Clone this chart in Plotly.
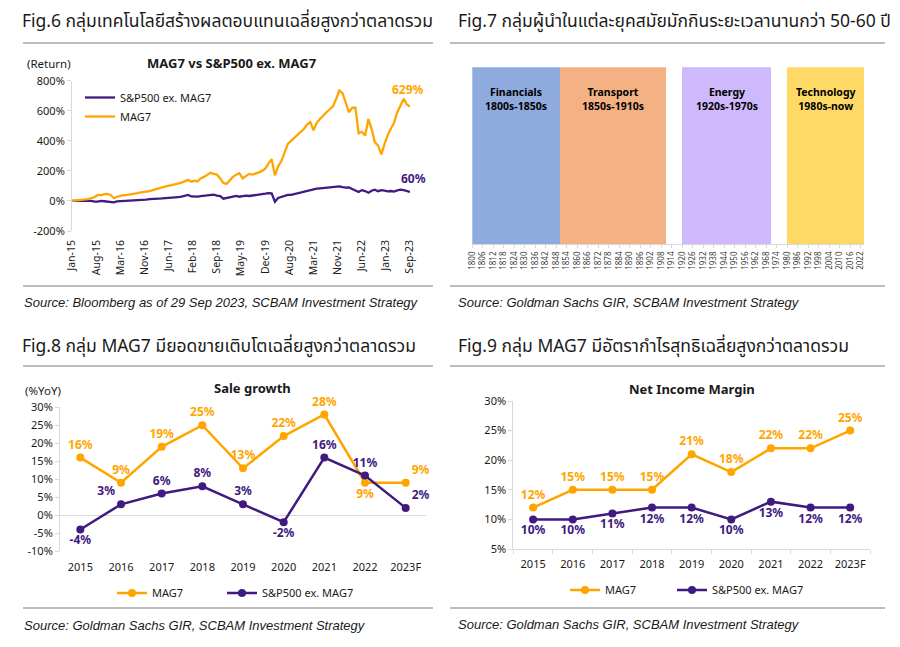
import plotly.graph_objects as go
import pandas as pd

W, H = 900, 647
def fx(px): return px / W
def fy(py): return 1 - py / H

ORANGE = "#FFA500"
PURPLE = "#3F1A80"
AXIS = "#D9D9D9"
SEP = "#A6A6A6"
TXT = "#1a1a1a"
FONT = "Noto Sans, Noto Sans Thai, sans-serif"
SRC_FONT = "Liberation Sans, Arial, sans-serif"

# ---------------- Fig.6 data (cumulative return, %) ----------------
fig6_dates = list(pd.date_range("2015-01-01", "2023-09-01", freq="MS")) + [pd.Timestamp("2023-09-29")]
mag7_return = [
    0, 2, 5, 8, 10, 12, 18, 25, 40, 38,
    45, 47, 40, 18, 28, 35, 38, 40, 42, 45,
    50, 55, 58, 62, 65, 72, 78, 85, 90, 98,
    102, 105, 110, 118, 122, 130, 140, 128, 135, 130,
    150, 160, 175, 187, 180, 175, 150, 120, 113, 140,
    160, 175, 185, 150, 165, 180, 175, 180, 190, 200,
    215, 250, 278, 170, 230, 265, 320, 380, 400, 420,
    440, 460, 480, 510, 525, 470, 520, 545, 570, 590,
    610, 630, 680, 735, 715, 650, 590, 620, 620, 450,
    460, 435, 545, 480, 390, 370, 310, 380, 435, 480,
    520, 590, 630, 680, 640,
    629,
]
spx_ex_return = [
    0, 1, 2, 2, 3, 1, 0, -5, -4, 0,
    -2, -4, -10, -9, -3, -2, -1, 0, 2, 3,
    3, 5, 7, 9, 12, 15, 15, 16, 17, 18,
    20, 22, 24, 26, 28, 32, 40, 30, 28, 29,
    32, 35, 38, 40, 42, 35, 32, 15, 18, 25,
    28, 33, 28, 32, 35, 33, 35, 38, 42, 45,
    48, 52, 50, -5, 20, 28, 33, 40, 40, 45,
    55, 60, 62, 68, 75, 80, 82, 84, 86, 90,
    88, 92, 95, 97, 92, 88, 90, 78, 70, 60,
    72, 66, 55, 68, 75, 65, 72, 68, 64, 66,
    62, 70, 75, 72, 65,
    60,
]
fig6_tick_labels = ["Jan-15", "Aug-15", "Mar-16", "Nov-16", "Jun-17", "Feb-18", "Sep-18",
                    "May-19", "Dec-19", "Aug-20", "Mar-21", "Nov-21", "Jun-22", "Jan-23", "Sep-23"]
fig6_tick_pos = list(pd.date_range("2015-01-01", "2023-09-29", periods=len(fig6_tick_labels)))
fig6_y_ticks = [-200, 0, 200, 400, 600, 800]
fig6_y_labels = ["-200%", "0%", "200%", "400%", "600%", "800%"]

# ---------------- Fig.7 data (leading sectors by era) ----------------
era_names = ["Financials", "Transport", "Energy", "Technology"]
era_periods = ["1800s-1850s", "1850s-1910s", "1920s-1970s", "1980s-now"]
era_start = [1800, 1850, 1920, 1980]
era_end = [1850, 1911, 1971, 2024]
era_colors = ["#8FAADC", "#F4B183", "#CDB9FB", "#FFD966"]
era_ticks = list(range(1800, 2023, 6))

# ---------------- Fig.8 / Fig.9 data ----------------
years = ["2015", "2016", "2017", "2018", "2019", "2020", "2021", "2022", "2023F"]
mag7_sales = [16, 9, 19, 25, 13, 22, 28, 9, 9]
spx_sales = [-4, 3, 6, 8, 3, -2, 16, 11, 2]
mag7_margin = [12, 15, 15, 15, 21, 18, 22, 22, 25]
spx_margin = [10, 10, 11, 12, 12, 10, 13, 12, 12]
fig8_y_ticks = [-10, -5, 0, 5, 10, 15, 20, 25, 30]
fig8_y_labels = ["-10%", "-5%", "0%", "5%", "10%", "15%", "20%", "25%", "30%"]
fig9_y_ticks = [5, 10, 15, 20, 25, 30]
fig9_y_labels = ["5%", "10%", "15%", "20%", "25%", "30%"]

mag7_sales_pos = ["top center"] * 7 + ["bottom center", "top right"]
spx_sales_pos = ["bottom center", "top left", "top center", "top center", "top center",
                 "bottom center", "top center", "top center", "top right"]

fig = go.Figure()

# Fig.6 traces
fig.add_trace(go.Scatter(x=fig6_dates, y=spx_ex_return, mode="lines", name="S&P500 ex. MAG7",
                         line=dict(color=PURPLE, width=2.3), xaxis="x", yaxis="y", legend="legend"))
fig.add_trace(go.Scatter(x=fig6_dates, y=mag7_return, mode="lines", name="MAG7",
                         line=dict(color=ORANGE, width=2.3), xaxis="x", yaxis="y", legend="legend"))

# Fig.7 bars
fig.add_trace(go.Bar(x=[(s + e) / 2 for s, e in zip(era_start, era_end)],
                     width=[e - s for s, e in zip(era_start, era_end)],
                     y=[1] * len(era_names), marker=dict(color=era_colors, line=dict(width=0)),
                     showlegend=False, hoverinfo="skip", xaxis="x2", yaxis="y2"))

def lm_trace(x, y, name, color, pos, xa, ya, lg):
    return go.Scatter(x=x, y=y, mode="lines+markers+text", name=name,
                      line=dict(color=color, width=2.5), marker=dict(size=8, color=color),
                      text=[f"{v}%" for v in y], textposition=pos, cliponaxis=False,
                      textfont=dict(color=color, size=12, family=FONT, weight="bold"),
                      xaxis=xa, yaxis=ya, legend=lg)

# Fig.8 traces
fig.add_trace(lm_trace(years, mag7_sales, "MAG7", ORANGE, mag7_sales_pos, "x3", "y3", "legend2"))
fig.add_trace(lm_trace(years, spx_sales, "S&P500 ex. MAG7", PURPLE, spx_sales_pos, "x3", "y3", "legend3"))
# Fig.9 traces
fig.add_trace(lm_trace(years, mag7_margin, "MAG7", ORANGE, "top center", "x4", "y4", "legend4"))
fig.add_trace(lm_trace(years, spx_margin, "S&P500 ex. MAG7", PURPLE, "bottom center", "x4", "y4", "legend5"))

tickfont = dict(family=FONT, size=11, color=TXT)

annotations = []
def ann(text, px, py, size=11, bold=False, color=TXT, anchor="left", family=FONT, italic=False):
    t = f"<b>{text}</b>" if bold else text
    if italic:
        t = f"<i>{t}</i>"
    annotations.append(dict(text=t, x=fx(px), y=fy(py), xref="paper", yref="paper",
                            xanchor=anchor, yanchor="middle", showarrow=False,
                            font=dict(family=family, size=size, color=color)))

# Figure titles
ann("Fig.6 กลุ่มเทคโนโลยีสร้างผลตอบแทนเฉลี่ยสูงกว่าตลาดรวม", 20, 21, size=17.5)
ann("Fig.7 กลุ่มผู้นำในแต่ละยุคสมัยมักกินระยะเวลานานกว่า 50-60 ปี", 456, 21, size=17.5)
ann("Fig.8 กลุ่ม MAG7 มียอดขายเติบโตเฉลี่ยสูงกว่าตลาดรวม", 20, 345, size=17.5)
ann("Fig.9 กลุ่ม MAG7 มีอัตรากำไรสุทธิเฉลี่ยสูงกว่าตลาดรวม", 456, 345, size=17.5)

# Sources
ann("Source: Bloomberg as of 29 Sep 2023, SCBAM Investment Strategy", 22, 302, size=13, family=SRC_FONT, italic=True)
ann("Source: Goldman Sachs GIR, SCBAM Investment Strategy", 456, 302, size=13, family=SRC_FONT, italic=True)
ann("Source: Goldman Sachs GIR, SCBAM Investment Strategy", 22, 625, size=13, family=SRC_FONT, italic=True)
ann("Source: Goldman Sachs GIR, SCBAM Investment Strategy", 456, 624, size=13, family=SRC_FONT, italic=True)

# Chart titles / axis units
ann("MAG7 vs S&P500 ex. MAG7", 231, 63, size=13, bold=True, anchor="center")
ann("(Return)", 49, 63, size=11.5, anchor="center")
ann("Sale growth", 253, 388, size=13, bold=True, anchor="center")
ann("(%YoY)", 43, 391, size=11.5, anchor="center")
ann("Net Income Margin", 692, 389, size=13, bold=True, anchor="center")

# End labels Fig.6
annotations.append(dict(text="<b>629%</b>", x=fig6_dates[-1], y=mag7_return[-1], xref="x", yref="y",
                        showarrow=False, yshift=17, xshift=-2, font=dict(family=FONT, size=12, color=ORANGE)))
annotations.append(dict(text="<b>60%</b>", x=fig6_dates[-1], y=spx_ex_return[-1], xref="x", yref="y",
                        showarrow=False, yshift=13, xshift=3, font=dict(family=FONT, size=12, color=PURPLE)))

# Era labels Fig.7
for name, per, s, e in zip(era_names, era_periods, era_start, era_end):
    annotations.append(dict(text=f"<b>{name}</b><br><b>{per}</b>", x=(s + e) / 2, y=0.82,
                            xref="x2", yref="y2", showarrow=False,
                            font=dict(family=FONT, size=10.5, color="#000000")))

shapes = []
def hline(x0, x1, py):
    shapes.append(dict(type="line", xref="paper", yref="paper", x0=fx(x0), x1=fx(x1),
                       y0=fy(py), y1=fy(py), line=dict(color=SEP, width=1.5)))
hline(23, 433, 43); hline(23, 433, 286)
hline(450, 885, 43); hline(450, 885, 286)
hline(23, 433, 366); hline(23, 433, 608)
hline(450, 885, 366); hline(450, 885, 608)

yax_common = dict(showgrid=False, showline=True, linecolor=AXIS, linewidth=1, ticks="outside",
                  ticklen=4, tickcolor=AXIS, tickfont=tickfont, zeroline=False,
                  automargin=False)

def legend_at(px, py):
    return dict(x=fx(px), y=fy(py), xanchor="left", yanchor="middle", orientation="h",
                bgcolor="rgba(0,0,0,0)", font=dict(family=FONT, size=11, color=TXT))

fig.update_layout(
    width=W, height=H, margin=dict(l=0, r=0, t=0, b=0, autoexpand=False),
    paper_bgcolor="white", plot_bgcolor="white",
    font=dict(family=FONT, color=TXT),
    annotations=annotations, shapes=shapes, bargap=0,
    xaxis=dict(domain=[fx(72), fx(410)], range=[fig6_dates[0], fig6_dates[-1]], type="date",
               tickvals=fig6_tick_pos, ticktext=fig6_tick_labels, tickangle=-90,
               tickfont=dict(family=FONT, size=10.5, color=TXT), showgrid=False,
               showline=False, ticks="", anchor="y", ticklabelstandoff=6, automargin=False),
    yaxis=dict(domain=[fy(231), fy(80.7)], range=[-200, 800], tickvals=fig6_y_ticks,
               ticktext=fig6_y_labels, anchor="x", **yax_common),
    xaxis2=dict(domain=[fx(472.3), fx(864.3)], range=[1800, 2024], tickvals=era_ticks,
                tickangle=-90, tickfont=dict(family=FONT, size=8, color="#404040"),
                showgrid=False, showline=True, linecolor=AXIS, ticks="outside", ticklen=3,
                tickcolor=AXIS, anchor="y2", zeroline=False, automargin=False),
    yaxis2=dict(domain=[fy(244.3), fy(67.3)], range=[0, 1], visible=False, anchor="x2",
                automargin=False),
    xaxis3=dict(domain=[fx(60), fx(426)], type="category", range=[-0.5, 8.5], showgrid=False,
                showline=False, ticks="", tickfont=tickfont, anchor="y3", ticklabelstandoff=8,
                tickangle=0, automargin=False),
    yaxis3=dict(domain=[fy(551), fy(407.3)], range=[-10, 30], tickvals=fig8_y_ticks,
                ticktext=fig8_y_labels, anchor="x3",
                **{**yax_common, "zeroline": True, "zerolinecolor": AXIS, "zerolinewidth": 1}),
    xaxis4=dict(domain=[fx(513.3), fx(870)], type="category", range=[-0.5, 8.5], showgrid=False,
                showline=True, linecolor=AXIS, ticks="outside", tickson="boundaries", ticklen=4,
                tickcolor=AXIS, tickfont=tickfont, anchor="y4", tickangle=0,
                ticklabelstandoff=5, automargin=False),
    yaxis4=dict(domain=[fy(549), fy(401)], range=[5, 30], tickvals=fig9_y_ticks,
                ticktext=fig9_y_labels, anchor="x4", **yax_common),
    legend=dict(x=fx(80), y=fy(83), xanchor="left", yanchor="top", bgcolor="rgba(0,0,0,0)",
                font=dict(family=FONT, size=11, color=TXT), tracegroupgap=0),
    legend2=legend_at(112, 593),
    legend3=legend_at(222, 593),
    legend4=legend_at(565, 590),
    legend5=legend_at(672, 590),
)

fig.write_html("out.html", config={"displayModeBar": False},
               post_script="document.body.style.margin='0px';")
